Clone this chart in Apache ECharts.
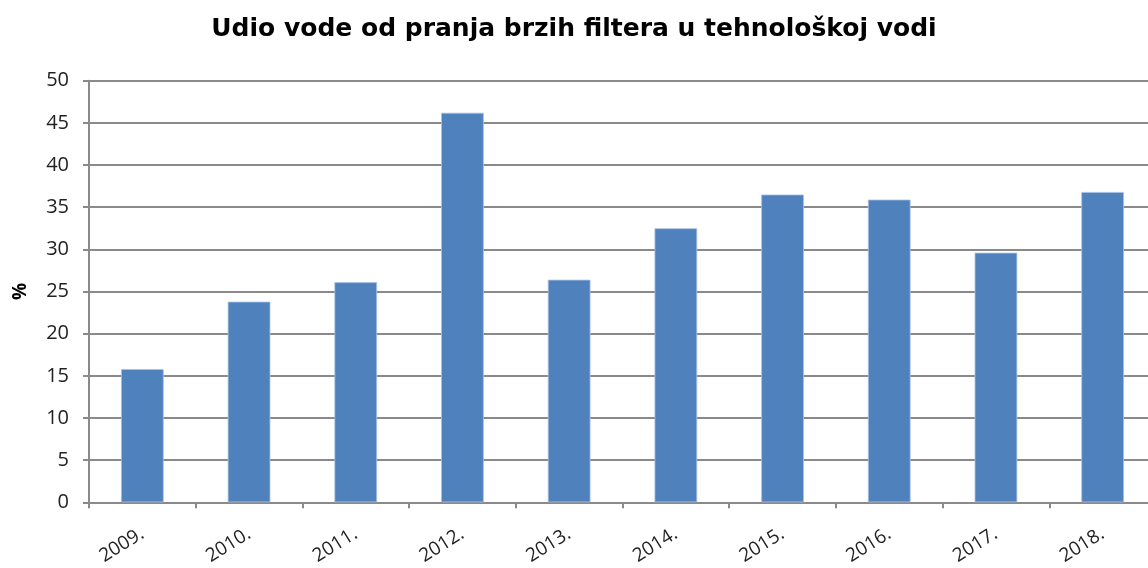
<!DOCTYPE html>
<html><head><meta charset="utf-8">
<script src="https://cdn.jsdelivr.net/npm/echarts@6/dist/echarts.min.js"></script>
<style>html,body{margin:0;padding:0;background:#fff}#c{width:1148px;height:568px}</style>
</head><body><div id="c"></div>
<script>
const titleText = 'Udio vode od pranja brzih filtera u tehnološkoj vodi';
const categories = ['2009.', '2010.', '2011.', '2012.', '2013.', '2014.', '2015.', '2016.', '2017.', '2018.'];
const values = [15.8, 23.8, 26.1, 46.2, 26.4, 32.5, 36.5, 35.9, 29.6, 36.8];
const yName = '%';

const chart = echarts.init(document.getElementById('c'), null, {renderer: 'canvas'});
chart.setOption({
  animation: false,
  title: {
    text: titleText, left: 'center', top: 12,
    textStyle: {fontFamily: 'DejaVu Sans', fontWeight: 'bold', fontSize: 25, color: '#000'}
  },
  grid: {left: 89, width: 1067, top: 80.7, height: 421.6, containLabel: false, outerBoundsMode: 'none'},
  xAxis: {
    type: 'category', data: categories, boundaryGap: true,
    axisLine: {lineStyle: {color: '#8A8A8A', width: 2}},
    axisTick: {show: true, length: 6, lineStyle: {color: '#8A8A8A', width: 2}},
    axisLabel: {rotate: 32, fontFamily: 'Open Sans', fontSize: 19, color: '#222', margin: 30}
  },
  yAxis: {
    type: 'value', min: 0, max: 50, interval: 5,
    name: yName, nameLocation: 'middle', nameGap: 59, nameRotate: 90,
    nameTextStyle: {fontFamily: 'Open Sans', fontWeight: 'bold', fontSize: 19, color: '#000'},
    axisLine: {show: true, lineStyle: {color: '#8A8A8A', width: 2}},
    axisTick: {show: true, length: 6, lineStyle: {color: '#8A8A8A', width: 2}},
    splitLine: {lineStyle: {color: '#8A8A8A', width: 2}},
    axisLabel: {fontFamily: 'Open Sans', fontSize: 20, color: '#222', margin: 20}
  },
  series: [{
    type: 'bar', data: values, barWidth: '40%',
    itemStyle: {color: '#4F81BD', borderColor: '#A9C2E4', borderWidth: 0.8}
  }]
});
</script></body></html>
